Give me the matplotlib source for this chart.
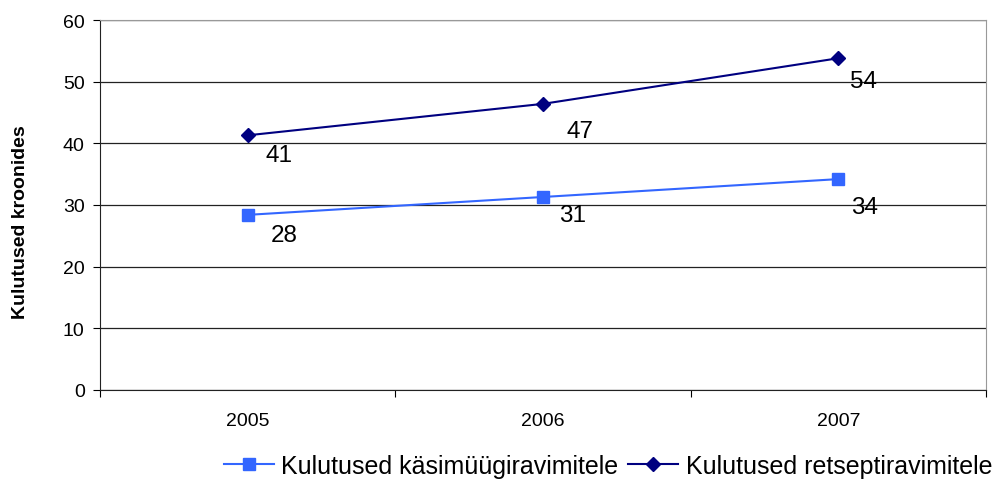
import numpy as np
import matplotlib.pyplot as plt

plt.rcParams['font.family'] = ['Liberation Sans', 'DejaVu Sans']

# Data
years = ["2005", "2006", "2007"]
otc = [28.4, 31.3, 34.2]          # Kulutused käsimüügiravimitele
rx = [41.3, 46.4, 53.8]           # Kulutused retseptiravimitele
otc_labels = ["28", "31", "34"]
rx_labels = ["41", "47", "54"]

# label offsets (points) - layout only
otc_off = [(26.6, -14.4), (21.6, -13.0), (18.7, -20.2)]
rx_off = [(22.3, -14.4), (26.6, -19.4), (18.0, -16.6)]

fig = plt.figure(figsize=(9.99, 4.81), dpi=100)
ax = fig.add_axes([100 / 999, 1 - 391 / 481, 886 / 999, 370 / 481])

x = np.arange(len(years))
ax.plot(x, otc, color="#3366FF", marker="s", markersize=8, linewidth=1.5,
        label="Kulutused käsimüügiravimitele")
ax.plot(x, rx, color="#000080", marker="D", markersize=7, linewidth=1.5,
        label="Kulutused retseptiravimitele")

for xi, v, t, off in zip(x, otc, otc_labels, otc_off):
    ax.annotate(t, (xi, v), xytext=off, textcoords="offset points",
                ha="center", va="center", fontsize=17.5)
for xi, v, t, off in zip(x, rx, rx_labels, rx_off):
    ax.annotate(t, (xi, v), xytext=off, textcoords="offset points",
                ha="center", va="center", fontsize=17.5)

ax.set_xlim(-0.5, 2.5)
ax.set_ylim(0, 60)
ax.set_yticks(range(0, 61, 10))
ax.set_xticks([-0.5, 0.5, 1.5, 2.5])
ax.set_xticklabels([])
ax.set_xticks(x, minor=True)
ax.set_xticklabels(years, minor=True)
ax.tick_params(axis="x", which="minor", length=0, pad=16, labelsize=14)
ax.tick_params(axis="x", which="major", length=5, direction="out")
ax.tick_params(axis="y", length=5, direction="out", labelsize=14, pad=6)

ax.grid(axis="y", color="#222222", linewidth=0.9)
ax.set_axisbelow(True)
for s in ["top", "right"]:
    ax.spines[s].set_color("#999999")
for s in ["left", "bottom"]:
    ax.spines[s].set_color("#222222")

ax.set_ylabel("Kulutused kroonides", fontsize=14, fontweight="bold")
ax.yaxis.set_label_coords(-0.080, 0.457)

fig.legend(loc="center", bbox_to_anchor=(608 / 999, 1 - 467 / 481), ncol=2,
           frameon=False, fontsize=18, handlelength=2.0, handletextpad=0.3,
           columnspacing=0.4, borderpad=0, borderaxespad=0)

fig.savefig("out.png", dpi=100)
